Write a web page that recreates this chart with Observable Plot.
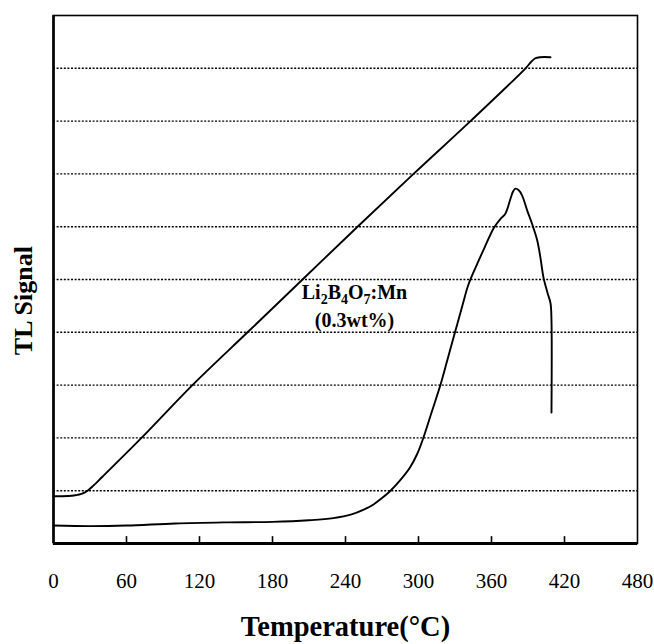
<!DOCTYPE html>
<html><head><meta charset="utf-8">
<script src="https://cdn.jsdelivr.net/npm/d3@7"></script>
<script src="https://cdn.jsdelivr.net/npm/@observablehq/plot@0.6"></script>
<style>body{margin:0;background:#fff}</style>
</head><body><div id="chart"></div>
<script>
const xTicks = [0, 60, 120, 180, 240, 300, 360, 420, 480];
const tickMarks = [60, 120, 180, 240, 300, 360, 420];
const gridY = [1, 2, 3, 4, 5, 6, 7, 8, 9];

// heating ramp (temperature profile)
const rampT = [0, 12, 18, 23, 28, 33, 40, 72.3, 114.2, 159.5, 204.7, 249.9, 295.9, 342.7, 388, 392.5, 396, 400, 408.5];
const rampS = [0.895, 0.90, 0.915, 0.94, 1.0, 1.1, 1.26, 2.0, 3.0, 4.0, 5.0, 6.0, 7.0, 8.0, 9.0, 9.12, 9.19, 9.21, 9.21];

// TL glow curve
const glowT = [0, 30, 60, 100, 140, 180, 210, 230, 245, 255, 263, 270, 277, 285, 293, 299, 304, 311, 318, 324, 330, 336, 341, 347, 354, 362, 367.4, 371.5, 375.6, 377.8, 379.7, 382.4, 385.2, 389.3, 393.4, 397.6, 400.3, 402.7, 406, 408.5, 409.3, 409.3];
const glowS = [0.34, 0.33, 0.34, 0.38, 0.40, 0.41, 0.44, 0.48, 0.55, 0.64, 0.74, 0.86, 1.0, 1.2, 1.44, 1.7, 2.0, 2.5, 3.0, 3.5, 4.0, 4.5, 4.9, 5.23, 5.59, 5.98, 6.15, 6.25, 6.53, 6.67, 6.72, 6.69, 6.59, 6.31, 6.05, 5.74, 5.40, 5.04, 4.75, 4.55, 4.22, 2.48];

const annotParts = [["Li", false], ["2", true], ["B", false], ["4", true], ["O", false], ["7", true], [":Mn", false]];
const annotLine1 = annotParts.map(d => d[0]).join("");
const annotLine2 = "(0.3wt%)";
const annotT = 247.4;
const xLabel = "Temperature(°C)";
const yLabel = "TL Signal";
const yLabelPos = 4.6;

const ramp = rampT.map((t, i) => ({t, s: rampS[i]}));
const glow = glowT.map((t, i) => ({t, s: glowS[i]}));
const font = "'Times New Roman', 'Liberation Serif', serif";

const chart = Plot.plot({
  width: 654,
  height: 644,
  marginLeft: 53,
  marginRight: 17,
  marginTop: 15,
  marginBottom: 101,
  style: {fontFamily: font, fontSize: "21px", background: "#fff", color: "#000"},
  x: {domain: [0, 480], ticks: xTicks, tickSize: 0, tickPadding: 30, tickFormat: d => String(d), label: null},
  y: {domain: [0, 10], axis: null},
  marks: [
    Plot.ruleY(gridY, {stroke: "#000", strokeWidth: 1.4, strokeDasharray: "2,1.6"}),
    Plot.frame({stroke: "#000", strokeWidth: 1.6}),
    Plot.ruleX([0], {stroke: "#000", strokeWidth: 2.6}),
    Plot.ruleY([0], {stroke: "#000", strokeWidth: 3}),
    Plot.ruleX(tickMarks, {y1: 0, y2: 0.13, stroke: "#000", strokeWidth: 1.6}),
    Plot.line(ramp, {x: "t", y: "s", stroke: "#000", strokeWidth: 1.9, curve: "catmull-rom"}),
    Plot.line(glow, {x: "t", y: "s", stroke: "#000", strokeWidth: 1.9, curve: "catmull-rom"}),
    Plot.text([annotLine1], {x: annotT, y: 4.75, text: d => d, fontSize: 20, fontWeight: "bold", fontFamily: font, fill: "#000"}),
    Plot.text([annotLine2], {x: annotT, y: 4.22, text: d => d, fontSize: 20, fontWeight: "bold", fontFamily: font, fill: "#000"}),
    Plot.text([xLabel], {frameAnchor: "bottom", dy: 92, text: d => d, fontSize: 28.5, fontWeight: "bold", fontFamily: font, fill: "#000"}),
    Plot.text([yLabel], {frameAnchor: "left", y: yLabelPos, rotate: -90, dx: -30, textAnchor: "middle", text: d => d, fontSize: 26, fontWeight: "bold", fontFamily: font, fill: "#000"})
  ]
});
document.getElementById("chart").appendChild(chart);

// render subscripts in the annotation
d3.select(chart).selectAll("text").filter(function () { return this.textContent === annotLine1; })
  .each(function () {
    const t = d3.select(this);
    t.text(null);
    let shifted = false;
    annotParts.forEach(([s, sub]) => {
      const ts = t.append("tspan").text(s);
      if (sub) { ts.attr("font-size", "14px").attr("dy", "5"); shifted = true; }
      else if (shifted) { ts.attr("dy", "-5"); shifted = false; }
    });
  });
</script>
</body></html>
